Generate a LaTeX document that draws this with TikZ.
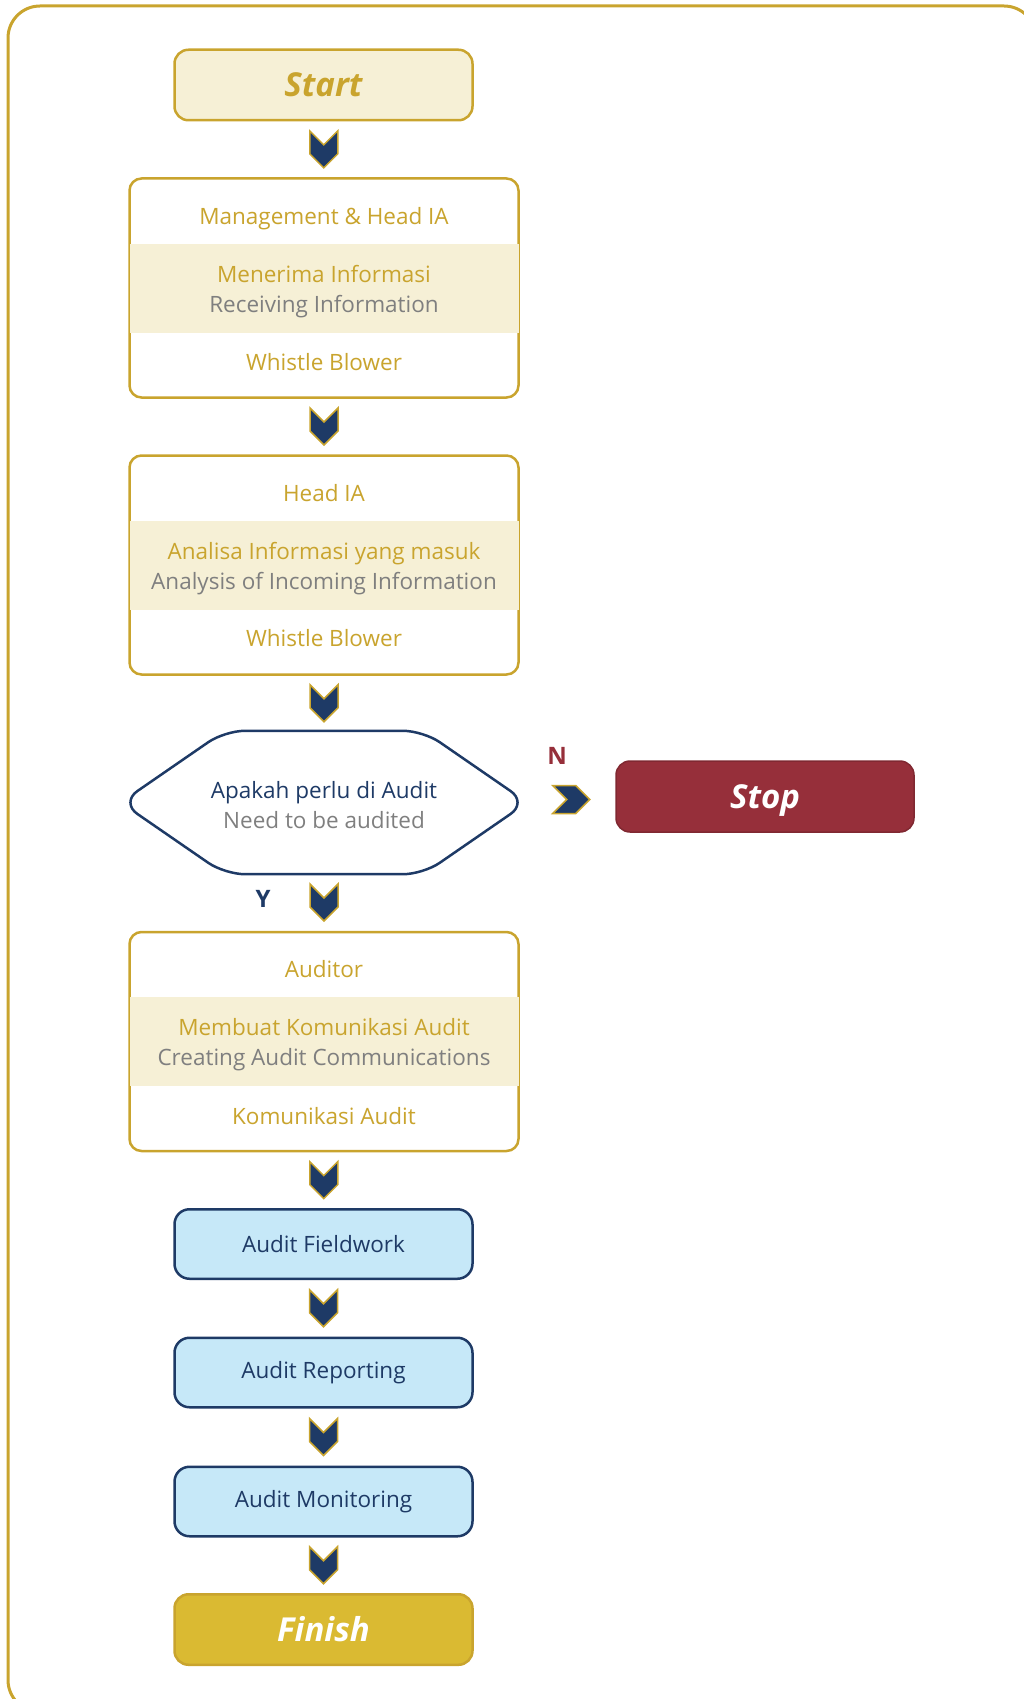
\documentclass[tikz,border=0pt]{standalone}
\usepackage{fontspec}
\setmainfont{Open Sans}
\usepackage{xcolor}
\usetikzlibrary{positioning,calc}
\definecolor{IAgold}{HTML}{C9A42E}
\definecolor{IAcream}{HTML}{F6F0D6}
\definecolor{IAnavy}{HTML}{1E3A66}
\definecolor{IAsky}{HTML}{C6E8F8}
\definecolor{IAred}{HTML}{962F3A}
\definecolor{IAmustard}{HTML}{DABA32}
\definecolor{IAgrey}{HTML}{7F7F7F}

\tikzset{
  stagebox/.style={draw=IAgold, fill=white, line width=2.5pt, rounded corners=12pt,
        minimum width=389pt, minimum height=219pt, inner sep=0pt},
  band/.style={fill=IAcream, minimum width=389pt, minimum height=89pt, inner sep=0pt},
  roletext/.style={text=IAgold, inner sep=0pt, text depth=0pt,
        font=\fontsize{22.5}{30}\selectfont},
  tasktext/.style={text=IAgold, align=center, inner sep=0pt,
        font=\fontsize{22.5}{30}\selectfont},
  terminal/.style={rounded corners=14pt, line width=2.5pt,
        minimum width=298pt, minimum height=70.5pt, inner sep=0pt,
        text height=24pt, text depth=0pt,
        font=\fontsize{33}{33}\selectfont\bfseries\itshape},
  phase/.style={draw=IAnavy, fill=IAsky, rounded corners=15pt, line width=2.5pt,
        minimum width=298pt, minimum height=69.5pt, inner sep=0pt,
        text=IAnavy, font=\fontsize{22.5}{30}\selectfont},
  answer/.style={font=\fontsize{24}{24}\selectfont\bfseries, inner sep=0pt},
  chev/.pic={
    \draw[draw=IAgold, fill=IAnavy, line width=1.5pt, line join=miter]
      (-14,-18.5) -- (0,-4.5) -- (14,-18.5) -- (14,4.5) -- (0,18.5) -- (-14,4.5) -- cycle;
  }
}

\begin{document}
\begin{tikzpicture}[x=1pt, y=-1pt]
    \useasboundingbox (0,0) rectangle (1024,1699);
    % outer frame, runs past the right and bottom edges
    \draw[IAgold, line width=3pt, rounded corners=32pt] (8,6) rectangle (1036,1712);

    \node[terminal, draw=IAgold, fill=IAcream, text=IAgold] (start) at (323.5,85) {Start};

    % receiving information
    \node[stagebox] (recv) at (324,288) {};
    \node[band] (recvband) at (324,288.5) {};
    \node[roletext] (recvrole) at (324,216) {Management \& Head IA};
    \node[tasktext] (recvtask) at (324,291.5) {Menerima Informasi\\{\color{IAgrey}Receiving Information}};
    \node[roletext] (recvsrc) at (324,362) {Whistle Blower};

    % analysing information
    \node[stagebox] (analisa) at (324,565) {};
    \node[band] (analisaband) at (324,565.5) {};
    \node[roletext] (analisarole) at (324,493) {Head IA};
    \node[tasktext] (analisatask) at (324,568.5) {Analisa Informasi yang masuk\\{\color{IAgrey}Analysis of Incoming Information}};
    \node[roletext] (analisasrc) at (324,638) {Whistle Blower};

    % decision
    \node[minimum width=406pt, minimum height=143pt, inner sep=0pt] (cek) at (324,802.5) {};
    \draw[IAnavy, line width=2.5pt, rounded corners=20pt]
      (cek.west) -- ($(cek.north west)+(104,0)$) -- ($(cek.north east)+(-104,0)$)
      -- (cek.east) -- ($(cek.south east)+(-104,0)$) -- ($(cek.south west)+(104,0)$) -- cycle;
    \node[inner sep=0pt, align=center, text=IAnavy, font=\fontsize{22.5}{30}\selectfont]
          (cektext) at (324,805) {Apakah perlu di Audit\\{\color{IAgrey}Need to be audited}};

    \node[terminal, draw=IAred!85!black, line width=1.5pt, fill=IAred, text=white,
          minimum height=71pt] (stop) at (765,796.5) {Stop};
    \node[answer, text=IAred] (no) at (557,756) {N};
    \node[answer, text=IAnavy] (yes) at (263,899) {Y};

    % audit communication
    \node[stagebox] (komunikasi) at (324,1041.5) {};
    \node[band] (komunikasiband) at (324,1041.5) {};
    \node[roletext] (komunikasirole) at (324,969) {Auditor};
    \node[tasktext] (komunikasitask) at (324,1045) {Membuat Komunikasi Audit\\{\color{IAgrey}Creating Audit Communications}};
    \node[roletext] (komunikasisrc) at (324,1116) {Komunikasi Audit};

    \node[phase] (fieldwork) at (323.5,1244) {Audit Fieldwork};
    \node[phase] (reporting) at (323.5,1372.5) {Audit Reporting};
    \node[phase] (monitoring) at (323.5,1501.5) {Audit Monitoring};

    \node[terminal, draw=IAgold, fill=IAmustard, text=white] (finish) at (323.5,1629.5) {Finish};

    % chevrons between the steps
    \foreach \a/\b in {start/recv, recv/analisa, analisa/cek, cek/komunikasi,
        komunikasi/fieldwork, fieldwork/reporting, reporting/monitoring, monitoring/finish}
      \pic at ($(\a.south)!.5!(\b.north)$) {chev};
    \pic[rotate=90] at ($(cek.east)!.5!(stop.west)$) {chev};
\end{tikzpicture}
\end{document}
